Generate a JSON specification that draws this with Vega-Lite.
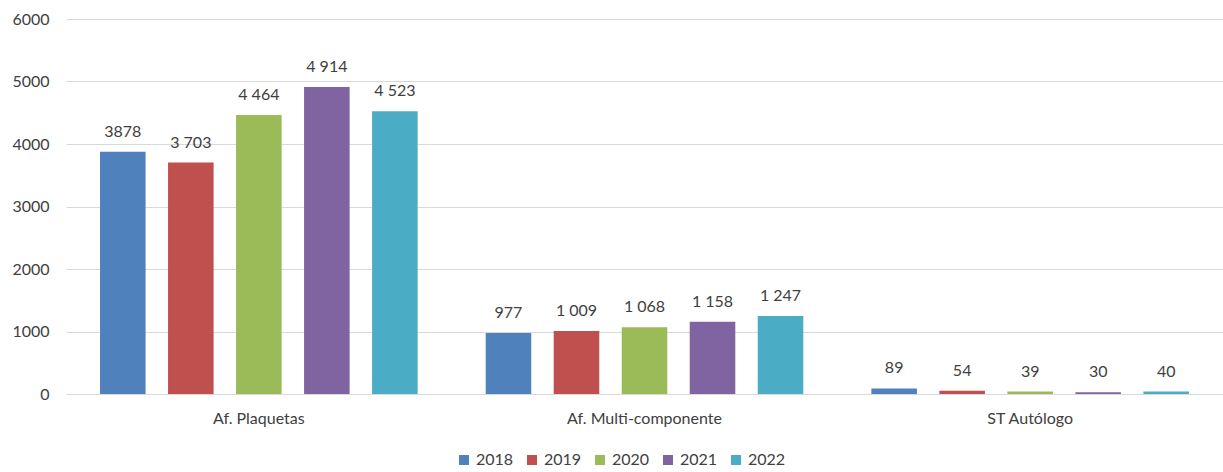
{
  "$schema": "https://vega.github.io/schema/vega-lite/v6.json",
  "width": 1157,
  "height": 375,
  "autosize": {"type": "none"},
  "padding": {"left": 66, "top": 19, "right": 0, "bottom": 78},
  "background": "white",
  "config": {
    "font": "Lato",
    "view": {"stroke": null},
    "axis": {"labelFont": "Lato", "labelColor": "#404040", "labelFontSize": 16}
  },
  "data": {
    "values": [
      {"cat": "Af. Plaquetas", "year": "2018", "value": 3878, "label": "3878"},
      {"cat": "Af. Plaquetas", "year": "2019", "value": 3703, "label": "3 703"},
      {"cat": "Af. Plaquetas", "year": "2020", "value": 4464, "label": "4 464"},
      {"cat": "Af. Plaquetas", "year": "2021", "value": 4914, "label": "4 914"},
      {"cat": "Af. Plaquetas", "year": "2022", "value": 4523, "label": "4 523"},
      {"cat": "Af. Multi-componente", "year": "2018", "value": 977, "label": "977"},
      {"cat": "Af. Multi-componente", "year": "2019", "value": 1009, "label": "1 009"},
      {"cat": "Af. Multi-componente", "year": "2020", "value": 1068, "label": "1 068"},
      {"cat": "Af. Multi-componente", "year": "2021", "value": 1158, "label": "1 158"},
      {"cat": "Af. Multi-componente", "year": "2022", "value": 1247, "label": "1 247"},
      {"cat": "ST Autólogo", "year": "2018", "value": 89, "label": "89"},
      {"cat": "ST Autólogo", "year": "2019", "value": 54, "label": "54"},
      {"cat": "ST Autólogo", "year": "2020", "value": 39, "label": "39"},
      {"cat": "ST Autólogo", "year": "2021", "value": 30, "label": "30"},
      {"cat": "ST Autólogo", "year": "2022", "value": 40, "label": "40"}
    ]
  },
  "encoding": {
    "x": {
      "field": "cat", "type": "nominal", "sort": null, "title": null,
      "scale": {"paddingInner": 0.12, "paddingOuter": 0.06},
      "axis": {"labelAngle": 0, "ticks": false, "domainColor": "#d9d9d9", "labelPadding": 16}
    },
    "xOffset": {"field": "year", "type": "nominal", "scale": {"paddingInner": 0.33, "paddingOuter": 0.16}},
    "y": {
      "field": "value", "type": "quantitative", "title": null,
      "scale": {"domain": [0, 6000], "nice": false},
      "axis": {"values": [0, 1000, 2000, 3000, 4000, 5000, 6000], "format": "d", "domain": false, "ticks": false, "gridColor": "#d9d9d9", "labelPadding": 17}
    }
  },
  "layer": [
    {
      "mark": {"type": "bar"},
      "encoding": {
        "color": {
          "field": "year", "type": "nominal", "title": null,
          "scale": {"domain": ["2018", "2019", "2020", "2021", "2022"], "range": ["#4F81BD", "#C0504D", "#9BBB59", "#8064A2", "#4BACC6"]},
          "legend": {
            "orient": "none", "direction": "horizontal", "columns": 5,
            "legendX": 390, "legendY": 433,
            "symbolType": "square", "symbolSize": 100, "symbolStrokeWidth": 0,
            "labelFont": "Lato", "labelFontSize": 16, "labelColor": "#404040",
            "columnPadding": 10, "labelOffset": 4
          }
        }
      }
    },
    {
      "mark": {"type": "text", "baseline": "bottom", "dy": -12, "font": "Lato", "fontSize": 16, "color": "#404040"},
      "encoding": {"text": {"field": "label"}}
    }
  ]
}
